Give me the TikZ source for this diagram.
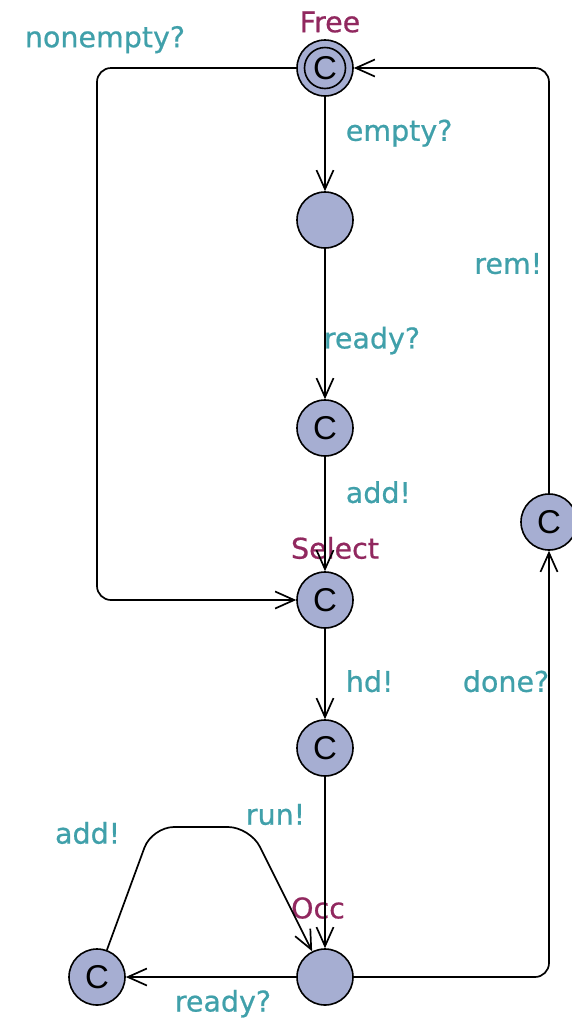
\documentclass[tikz,border=0pt]{standalone}
\usepackage{fontspec}
\setmainfont{DejaVu Sans}
\newfontfamily\labelfont{DejaVu Sans}[FakeBold=0.7]
\newfontfamily\cfont{Liberation Sans}
\usetikzlibrary{arrows.meta}
\definecolor{locfill}{RGB}{166,174,210}
\definecolor{synccol}{RGB}{64,160,170}
\definecolor{namecol}{RGB}{145,40,95}
\tikzset{loc/.style={circle, draw, fill=locfill, line width=1.6pt, minimum size=56pt, inner sep=0pt}}
\tikzset{c/.style={font=\fontsize{33}{33}\cfont}}
\tikzset{l/.style={font=\fontsize{28.5}{28.5}\labelfont, text=synccol, inner sep=1pt}}
\tikzset{m/.style={font=\fontsize{28.5}{28.5}\labelfont, text=namecol, inner sep=1pt}}

\begin{document}
\begin{tikzpicture}[x=1pt, y=-1pt, line width=1.7pt, >={Straight Barb[length=19pt,width=17pt]}]
  \useasboundingbox (0,0) rectangle (571,1021);
  % locations
  \node[loc, c] (Free) at (325,68) {C};
  \draw[line width=1.6pt] (Free.center) circle (20.5pt);
  \node[loc] (Empty) at (325,220) {};
  \node[loc, c] (Ready) at (325,428) {C};
  \node[loc, c] (Select) at (325,600) {C};
  \node[loc, c] (Head) at (325,748) {C};
  \node[loc] (Occ) at (325,977) {};
  \node[loc, c] (Add) at (97,977) {C};
  \node[loc, c] (Rem) at (549,522) {C};
  % location names
  \node[m] (FreeName) at (330,22) {Free};
  \node[m] (SelectName) at (335,548) {Select};
  \node[m] (OccName) at (318,908) {Occ};
  % edges
  \draw[->] (Free) -- node[l, pos=.385, right=19pt] {empty?} (Empty);
  \draw[->] (Empty) -- node[l, pos=.61, anchor=west, xshift=-3pt] {ready?} (Ready);
  \draw[->] (Ready) -- node[l, pos=.31, right=19pt] {add!} (Select);
  \draw[->] (Select) -- node[l, pos=.58, right=19pt] {hd!} (Head);
  \draw[->] (Head) -- node[l, pos=.22, left=18pt] {run!} (Occ);
  \draw[->] (Occ) -- node[l, pos=.43, below=11pt] {ready?} (Add);
  \draw[->, rounded corners=22pt] (Add) -- (152,827)
    node[l, pos=1, anchor=east, xshift=-30pt, yshift=-6pt] {add!}
    -- (250,827) -- (Occ);
  \draw[->, rounded corners=14pt] (Free) -| node[l, pos=.48, above=13pt] {nonempty?} (97,600) -- (Select);
  \draw[->, rounded corners=14pt] (Occ) -| node[l, pos=.847, anchor=east, xshift=2pt] {done?} (Rem);
  \draw[->, rounded corners=14pt] (Rem) |- node[l, pos=.27, left=5pt] {rem!} (Free);
\end{tikzpicture}
\end{document}
